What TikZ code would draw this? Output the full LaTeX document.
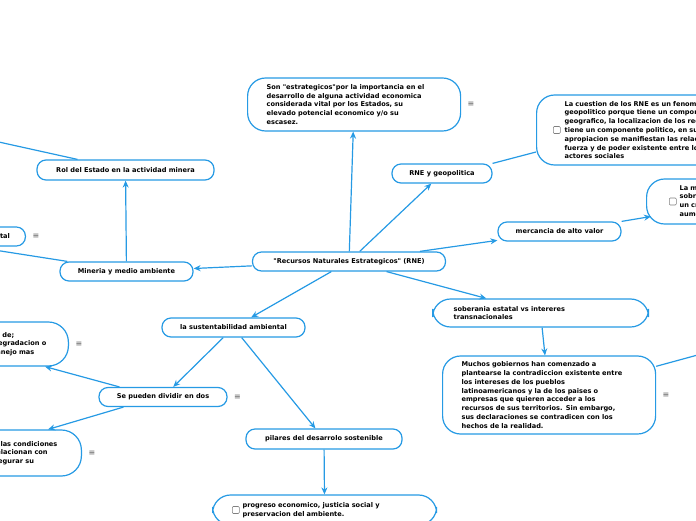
\documentclass[tikz,border=0pt]{standalone}
\usepackage{fontspec}
\setmainfont{DejaVu Sans}[Ligatures=TeXOff]
\usetikzlibrary{shapes, arrows, arrows.meta, positioning, calc}
\definecolor{mapblue}{RGB}{38,154,228}

\begin{document}
\begin{tikzpicture}[
    x=1pt, y=-1pt,
    font=\fontsize{6.6}{8.8}\selectfont\bfseries,
    box/.style={rectangle, draw=mapblue, line width=1.2pt, fill=white, rounded corners=9pt, minimum height=19pt, inner sep=0pt, text centered},
    bigbox/.style={box, rounded corners=18pt, align=left, anchor=west},
    chk/.style={rectangle, draw=gray, line width=0.6pt, rounded corners=1pt, minimum size=7pt, inner sep=0pt, anchor=west},
    menu/.style={text=gray!70!black, font=\fontsize{8}{8}\selectfont},
    arrow/.style={->, mapblue, line width=1.2pt, >={Stealth[length=7pt,width=6pt]}},
    link/.style={mapblue, line width=1.2pt}
]
\useasboundingbox (0,0) rectangle (696,520);
\clip (0,0) rectangle (696,520);

% centro
\node[box, minimum width=193pt] (rne) at (349,261.5) {"Recursos Naturales Estrategicos" (RNE)};

% rama superior y derecha
\node[bigbox, minimum height=53pt, text width=175pt, inner xsep=19pt] (son) at (247,104.5)
  {Son "estrategicos"por la importancia en el\\desarrollo de alguna actividad economica\\considerada vital por los Estados, su\\elevado potencial economico y/o su\\escasez.};
\node[menu, right=3pt of son] (sonmenu) {≡};
\node[box, minimum width=100pt] (geo) at (442,173.5) {RNE y geopolitica};
\node[bigbox, minimum height=70pt, text width=200pt, inner xsep=28pt] (cuestion) at (536,130)
  {La cuestion de los RNE es un fenomeno\\geopolitico porque tiene un componente\\geografico, la localizacion de los recursos, y\\tiene un componente politico, en su\\apropiacion se manifiestan las relaciones de\\fuerza y de poder existente entre los\\actores sociales};
\node[chk, right=17pt of cuestion.west] (cuestionchk) {};
\node[box, minimum width=123pt] (merc) at (559.5,231.5) {mercancia de alto valor};
\node[bigbox, minimum height=45pt, text width=100pt, inner xsep=33pt] (lam) at (646,201.5)
  {La mayor demanda\\sobre estos bienes\\un creciente\\aumento de precios};
\node[chk, right=23pt of lam.west] (lamchk) {};
\node[bigbox, minimum height=28pt, text width=174pt, inner xsep=21pt] (sob) at (432,313)
  {soberania estatal vs intereres\\transnacionales};
\node[bigbox, minimum height=78pt, text width=175pt, inner xsep=19pt] (muchos) at (442,395)
  {Muchos gobiernos han comenzado a\\plantearse la contradiccion existente entre\\los intereses de los pueblos\\latinoamericanos y la de los paises o\\empresas que quieren acceder a los\\recursos de sus territorios. Sin embargo,\\sus declaraciones se contradicen con los\\hechos de la realidad.};
\node[menu, right=3pt of muchos] (muchosmenu) {≡};
\coordinate (fuerader) at (760,338);

% rama izquierda
\node[box, minimum width=133pt] (mineria) at (126.5,271.5) {Mineria y medio ambiente};
\node[box, minimum width=177pt, minimum height=20pt] (rol) at (125.5,170) {Rol del Estado en la actividad minera};
\node[box, minimum width=106pt, anchor=east] (tal) at (26,236.5) {Intervencion estatal};
\node[menu, right=3pt of tal] (talmenu) {≡};
\coordinate (fueraizq) at (-60,129);

% rama inferior
\node[box, minimum width=143pt] (sus) at (233.5,327.5) {la sustentabilidad ambiental};
\node[box, minimum width=128pt] (se) at (163,397) {Se pueden dividir en dos};
\node[menu, right=3pt of se] (semenu) {≡};
\node[box, rounded corners=20pt, minimum height=44pt, inner xsep=22pt, align=left, anchor=east] (dega) at (69,344)
  {La debil admite cierto grado de;\\de sustitucion del capital, degradacion o\\perdida de recursos y un manejo mas};
\node[menu, right=3pt of dega] (degamenu) {≡};
\node[box, rounded corners=20pt, minimum height=46pt, inner xsep=24pt, align=left, anchor=east] (cond) at (82,453)
  {La fuerte sostiene que las condiciones\\naturales esenciales relacionan con\\la aptitud futura de asegurar su};
\node[menu, right=3pt of cond] (condmenu) {≡};
\node[box, minimum width=156pt, minimum height=20pt] (pil) at (324,439) {pilares del desarrolo sostenible};
\node[bigbox, minimum height=30pt, text width=164pt, inner xsep=30pt] (prog) at (212,510)
  {progreso economico, justicia social y\\preservacion del ambiente.};
\node[chk, right=20pt of prog.west] (progchk) {};

\draw[arrow] (rne) -- (son);
\draw[arrow] (rne) -- (geo);
\draw[link] (geo.north east) -- ([yshift=-22pt]cuestion.west);
\draw[arrow] (rne) -- (merc);
\draw[arrow] (merc.north east) -- ([xshift=5pt,yshift=-15pt]lam.west);
\draw[arrow] (rne) -- (sob);
\draw[arrow] (sob) -- (muchos);
\draw[link] (muchos.15) -- (fuerader);
\draw[arrow] (rne) -- (mineria);
\draw[arrow] (mineria) -- (rol);
\draw[link] ([xshift=-48pt]rol.north) -- (fueraizq);
\draw[link] ([xshift=8pt]mineria.north west) -- (tal.south);
\draw[arrow] (rne) -- (sus);
\draw[arrow] (sus) -- (se);
\draw[arrow] (sus) -- (pil);
\draw[arrow] ([xshift=21pt]se.north west) -- ([xshift=-24pt]dega.south east);
\draw[arrow] ([xshift=25pt]se.south west) -- ([xshift=-34pt]cond.north east);
\draw[arrow] (pil) -- (prog);
\end{tikzpicture}
\end{document}
